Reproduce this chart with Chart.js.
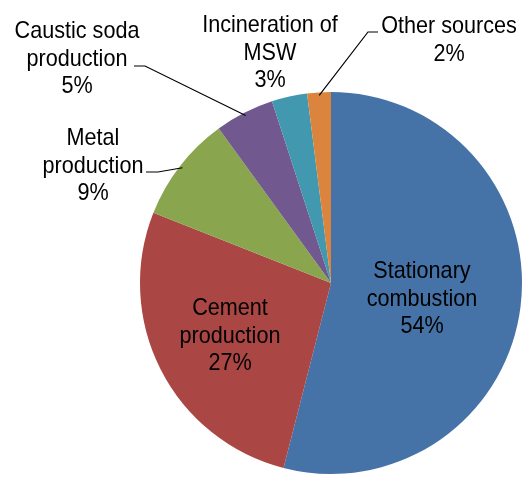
<!DOCTYPE html>
<html>
<head>
<meta charset="utf-8">
<script src="https://cdn.jsdelivr.net/npm/chart.js@4/dist/chart.umd.min.js"></script>
<style>
  html, body { margin: 0; padding: 0; background: #fff; }
  #wrap { width: 522px; height: 477px; }
</style>
</head>
<body>
<div id="wrap"><canvas id="pie"></canvas></div>
<script>
    "use strict";

    // Data
    var categories = ["Stationary combustion", "Cement production", "Metal production",
                      "Caustic soda production", "Incineration of MSW", "Other sources"];
    var shares = [54, 27, 9, 5, 3, 2];
    var colors = ["#4572A7", "#AA4643", "#89A54E", "#71588F", "#4198AF", "#DB843D"];

    // label text lines, centre x + first baseline, and leader line start
    var labelLines = [
        ["Stationary", "combustion"],
        ["Cement", "production"],
        ["Metal", "production"],
        ["Caustic soda", "production"],
        ["Incineration of", "MSW"],
        ["Other sources"]
    ];
    var labelPos = [[422, 278], [230, 315], [93, 145], [77, 38], [270, 32], [449, 33]];
    var leaderFrom = [null, null, [146, 172, 158], [134, 66, 145], null, [378, 32, 368]];

    var FONT = "'Liberation Sans Narrow', 'Arial Narrow', 'Liberation Sans', Arial, sans-serif";
    var LINE_H = 27.5;
    var SQUEEZE = 0.9; // fake the narrow face of the original

    var pieLabels = {
        id: "pieLabels",
        afterDatasetsDraw: function (chart) {
            var ctx = chart.ctx;
            var arcs = chart.getDatasetMeta(0).data;
            ctx.save();
            ctx.fillStyle = "#000";
            ctx.strokeStyle = "#000";
            ctx.lineWidth = 1.2;
            ctx.font = "24px " + FONT;
            ctx.textAlign = "center";
            ctx.textBaseline = "alphabetic";

            arcs.forEach(function (arc, i) {
                var lines = labelLines[i].concat([shares[i] + "%"]);
                var p = labelPos[i];
                ctx.save();
                ctx.translate(p[0], 0);
                ctx.scale(SQUEEZE, 1);
                lines.forEach(function (t, k) {
                    ctx.fillText(t, 0, p[1] + k * LINE_H);
                });
                ctx.restore();

                var lf = leaderFrom[i];
                if (lf) {
                    var mid = (arc.startAngle + arc.endAngle) / 2;
                    var r = arc.outerRadius - 3;
                    var ex = arc.x + Math.cos(mid) * r;
                    var ey = arc.y + Math.sin(mid) * r;
                    ctx.beginPath();
                    ctx.moveTo(lf[0], lf[1]);
                    ctx.lineTo(lf[2], lf[1]);
                    ctx.lineTo(ex, ey);
                    ctx.stroke();
                }
            });
            ctx.restore();
        }
    };

    var ctx1 = document.getElementById("pie").getContext("2d");
    var myChart = new Chart(ctx1, {
        type: "pie",
        data: {
            labels: categories,
            datasets: [{
                data: shares,
                backgroundColor: colors,
                borderWidth: 0
            }]
        },
        options: {
            responsive: true,
            maintainAspectRatio: false,
            animation: false,
            layout: { padding: { left: 140, right: 0, top: 92, bottom: 3 } },
            plugins: {
                legend: { display: false },
                tooltip: { enabled: false }
            }
        },
        plugins: [pieLabels]
    });
</script>
</body>
</html>
